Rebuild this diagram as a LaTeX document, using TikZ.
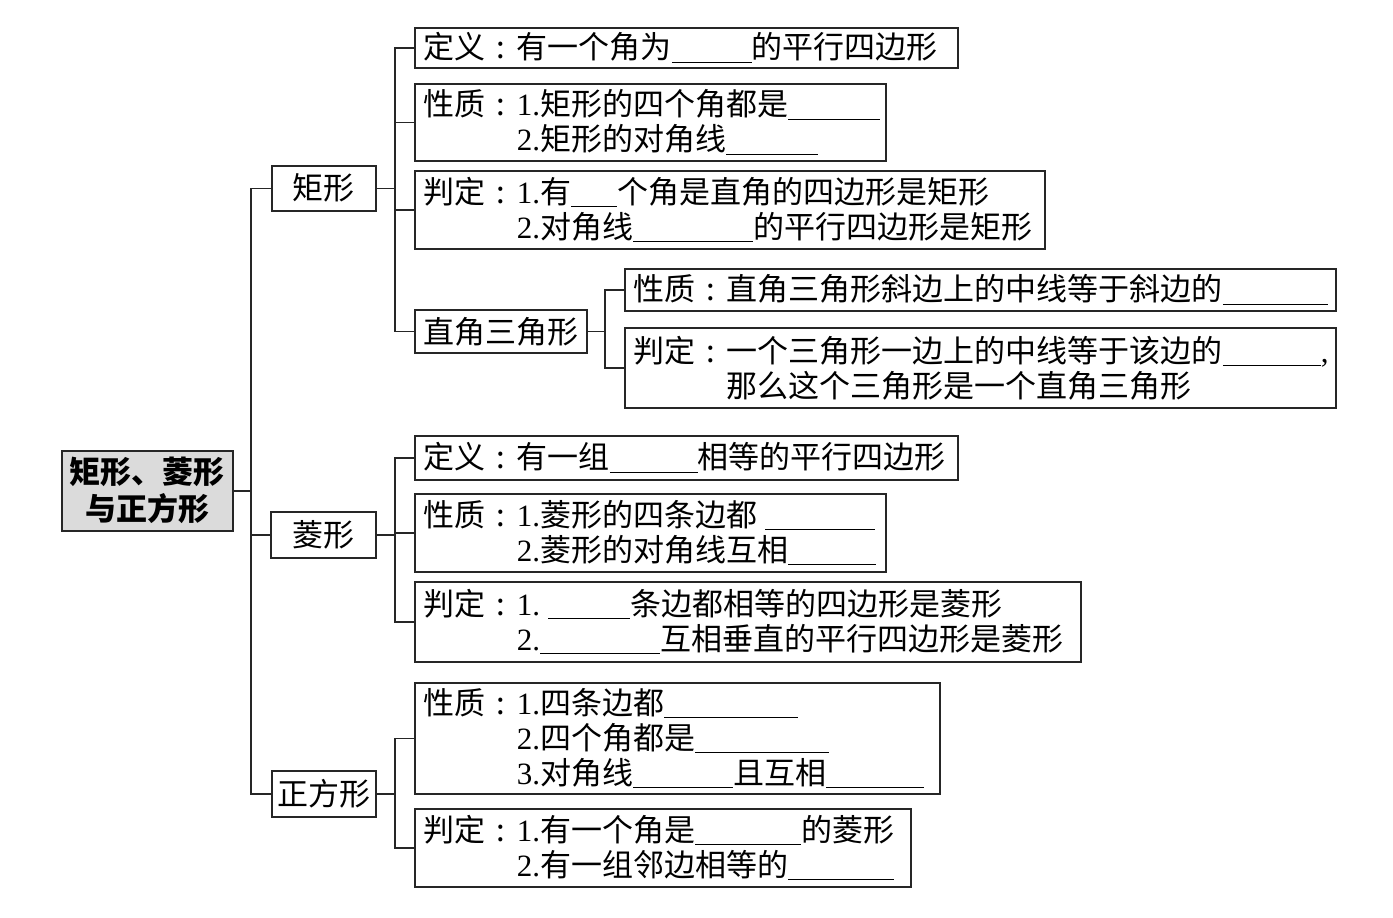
\documentclass[tikz,border=0pt]{standalone}
\usepackage{fontspec}
\setmainfont{Noto Sans CJK SC}
\newfontfamily\lat{Liberation Serif}
\newcommand\dg[1]{{\lat #1}}
\newcommand\blk[1]{\rule[-4pt]{#1pt}{1.3pt}}
\newcommand\cln{\makebox[31pt][c]{:}}
\tikzset{
  ln/.style={line width=1.6pt, draw=black!85},
  bx/.style={draw=black!85, line width=1.6pt, anchor=north west, inner xsep=9pt, inner ysep=0pt, align=left,
    font=\fontsize{31}{35}\selectfont},
  lb/.style={draw=black!85, line width=1.6pt, anchor=north west, inner xsep=4pt, inner ysep=0pt, align=center,
    font=\fontsize{31}{35}\selectfont},
}
\begin{document}
\begin{tikzpicture}[x=1pt,y=-1pt]
\fill[white] (0,0) rectangle (1393,918);
\useasboundingbox (0,0) rectangle (1393,918);
% root
\node[lb, fill=black!14, text width=163pt, minimum height=80pt, font=\bfseries\fontsize{31}{37}\selectfont] (root) at (61,450) {矩形、菱形\\与正方形};
% level 1
\node[lb, text width=96pt, minimum height=45pt] (jx) at (271,165) {矩形};
\node[lb, text width=97pt, minimum height=46pt] (lx) at (270,511) {菱形};
\node[lb, text width=96pt, minimum height=46pt] (zf) at (271,770) {正方形};
% rectangle branch
\node[bx, text width=525pt, minimum height=40pt] (a1) at (414,27) {定义\cln 有一个角为\blk{80}的平行四边形};
\node[bx, text width=453pt, minimum height=77pt] (a2) at (414,83) {性质\cln\dg{1.}矩形的四个角都是\blk{92}\\\phantom{性质\cln}\dg{2.}矩形的对角线\blk{92}};
\node[bx, text width=612pt, minimum height=78pt] (a3) at (414,170) {判定\cln\dg{1.}有\blk{46}个角是直角的四边形是矩形\\\phantom{判定\cln}\dg{2.}对角线\blk{120}的平行四边形是矩形};
\node[lb, text width=164pt, minimum height=43pt] (zj) at (414,309) {直角三角形};
\node[bx, text width=693pt, minimum height=42pt] (b1) at (624,268) {性质\cln 直角三角形斜边上的中线等于斜边的\blk{105}};
\node[bx, text width=693pt, minimum height=80pt] (b2) at (624,327) {判定\cln 一个三角形一边上的中线等于该边的\blk{98}\dg{,}\\\phantom{判定\cln}那么这个三角形是一个直角三角形};
% rhombus branch
\node[bx, text width=525pt, minimum height=44pt] (c1) at (414,435) {定义\cln 有一组\blk{88}相等的平行四边形};
\node[bx, text width=453pt, minimum height=78pt] (c2) at (414,493) {性质\cln\dg{1.}菱形的四条边都\hspace{8pt}\blk{110}\\\phantom{性质\cln}\dg{2.}菱形的对角线互相\blk{88}};
\node[bx, text width=648pt, minimum height=80pt] (c3) at (414,581) {判定\cln\dg{1.}\hspace{8pt}\blk{82}条边都相等的四边形是菱形\\\phantom{判定\cln}\dg{2.}\blk{120}互相垂直的平行四边形是菱形};
% square branch
\node[bx, text width=507pt, minimum height=111pt] (d1) at (414,682) {性质\cln\dg{1.}四条边都\blk{134}\\\phantom{性质\cln}\dg{2.}四个角都是\blk{134}\\\phantom{性质\cln}\dg{3.}对角线\blk{100}且互相\blk{98}};
\node[bx, text width=478pt, minimum height=78pt] (d2) at (414,808) {判定\cln\dg{1.}有一个角是\blk{106}的菱形\\\phantom{判定\cln}\dg{2.}有一组邻边相等的\blk{106}};
% spine coordinates
\coordinate (T) at (251,0);
\coordinate (V1) at (395,0);
\coordinate (V2) at (605,0);
% connectors
\draw[ln] (root.east) -- (root.east -| T);
\draw[ln] (jx.west) -- (jx.west -| T) |- (zf.west);
\draw[ln] (lx.west) -- (lx.west -| T);
\draw[ln] (a1.west) -- (a1.west -| V1) |- (zj.west);
\draw[ln] (a2.west) -- (a2.west -| V1);
\draw[ln] (a3.west) -- (a3.west -| V1);
\draw[ln] (jx.east) -- (jx.east -| V1);
\draw[ln] (b1.west) -- (b1.west -| V2) |- (b2.west);
\draw[ln] (zj.east) -- (zj.east -| V2);
\draw[ln] (c1.west) -- (c1.west -| V1) |- (c3.west);
\draw[ln] (c2.west) -- (c2.west -| V1);
\draw[ln] (lx.east) -- (lx.east -| V1);
\draw[ln] (d1.west) -- (d1.west -| V1) |- (d2.west);
\draw[ln] (zf.east) -- (zf.east -| V1);
\end{tikzpicture}
\end{document}
